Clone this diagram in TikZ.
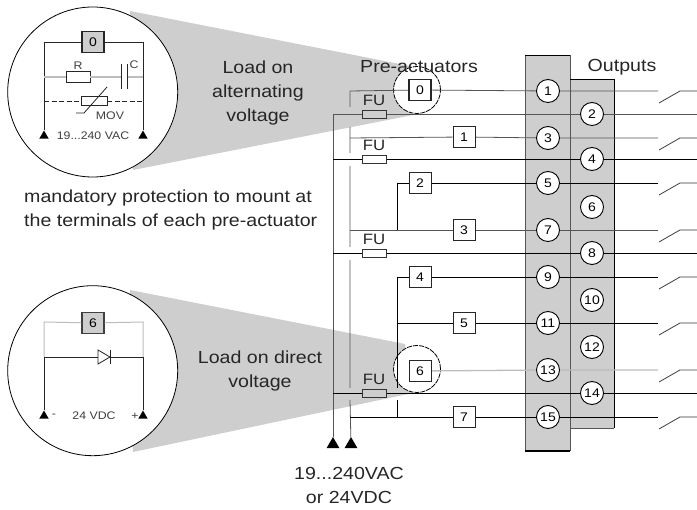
\documentclass[tikz,border=0pt]{standalone}
\usepackage{fontspec}
\setmainfont[FakeStretch=1.12]{Liberation Sans}
\usetikzlibrary{shapes.geometric}
\pgfdeclarelayer{bg}
\pgfdeclarelayer{wires}
\pgfsetlayers{bg,wires,main}
\definecolor{cgray}{HTML}{CECECE}
\definecolor{thinw}{HTML}{555555}
\definecolor{lightw}{HTML}{BDBDBD}
\tikzset{
  x=1pt,y=-1pt,
  txt/.style={font=\fontsize{17.5}{24}\selectfont,align=center,inner sep=0pt,text=black!85},
  term/.style={circle,draw=black,fill=white,line width=0.9pt,minimum size=23pt,inner sep=0pt,font=\fontsize{12.5}{12.5}\selectfont},
  box/.style={rectangle,draw=black!85,fill=white,line width=0.9pt,minimum width=22pt,minimum height=21pt,inner sep=0pt,font=\fontsize{12.5}{12.5}\selectfont},
  gbox/.style={box,fill=cgray,line width=1.1pt},
  fuse/.style={rectangle,draw=black!80,fill=white,line width=0.8pt,minimum width=24pt,minimum height=8pt,inner sep=0pt},
  futxt/.style={font=\fontsize{15}{15}\selectfont,inner sep=0pt,text=black!85},
  tri/.style={regular polygon,regular polygon sides=3,fill=black,inner sep=0pt,minimum size=15pt},
  stri/.style={regular polygon,regular polygon sides=3,fill=black,inner sep=0pt,minimum size=11pt},
  tiny/.style={font=\fontsize{11}{11}\selectfont,inner sep=0pt,text=black!75},
  strong/.style={draw=black,line width=0.9pt},
  weak/.style={draw=thinw,line width=0.8pt},
  pale/.style={draw=lightw,line width=1.3pt},
  lens/.style={circle,draw=black,fill=white,line width=0.8pt,inner sep=0pt},
  contact/.style={draw=black!80,line width=0.8pt}
}
\begin{document}
\begin{tikzpicture}
\useasboundingbox (0,0) rectangle (697,510);

% --- lenses and shaded cones
\begin{pgfonlayer}{bg}
  \fill[cgray] (130,11) -- (410,66) -- (413,115) -- (133,170) -- cycle;
  \fill[cgray] (130,290) -- (405,344) -- (413,393) -- (133,452) -- cycle;
  \fill[cgray] (525,55) rectangle (570,451);
  \fill[cgray] (570,79) rectangle (614,428);
  \draw[thinw,line width=0.7pt] (525,55) -- (525,451) (570,55) -- (570,451);
  \draw[black,line width=0.9pt] (525,55) -- (570,55);
  \draw[black,line width=1.4pt] (525,451) -- (570,451);
  \draw[black,line width=0.9pt] (570,79) -- (614,79) -- (614,428);
  \draw[thinw,line width=0.7pt] (614,428) -- (570,428);
  \node[lens,minimum size=170pt] (L1) at (92.7,92) {};
  \node[lens,minimum size=170pt] (L2) at (92.7,370.7) {};
  \node[lens,dash pattern=on 5pt off 1pt,minimum size=47pt] (l0) at (417,90) {};
  \node[lens,dash pattern=on 5pt off 1pt,minimum size=47pt] (l6) at (417,369) {};
\end{pgfonlayer}

% --- terminals
\foreach \n/\y in {1/91,3/138,5/183,7/230,9/277,11/323,13/370,15/417}
  \node[term] (t\n) at (548,\y) {\n};
\foreach \n/\y in {2/114,4/159,6/207,8/253,10/300,12/347,14/393}
  \node[term] (t\n) at (592,\y) {\n};

% --- pre-actuators
\node[box,line width=1.2pt] (b0) at (420,90) {0};
\node[box] (b1) at (464,137) {1};
\node[box] (b2) at (420,183) {2};
\node[box] (b3) at (464,230) {3};
\node[box] (b4) at (420,277) {4};
\node[box] (b5) at (464,323) {5};
\node[box] (b6) at (420,371) {6};
\node[box] (b7) at (464,417) {7};

% --- fuses
\foreach \n/\y/\fc in {a/114/cgray,b/159/white,c/253/white,d/393/cgray}{
  \node[fuse,fill=\fc] (f\n) at (374,\y) {};
  \node[futxt] at (374,\y-13.5) {FU};
}

% --- bus coordinates
\coordinate (v0) at (350,91);
\coordinate (v1a) at (350,107);
\coordinate (v1b) at (350,127);
\coordinate (v2a) at (350,153);
\coordinate (v2b) at (350,166);
\coordinate (v3a) at (350,247);
\coordinate (v3b) at (350,260);
\coordinate (v4a) at (350,388);
\coordinate (v4b) at (350,400);
\coordinate (r3) at (350,138);
\coordinate (r7) at (350,230);
\coordinate (r15) at (350,417);
\coordinate (n7) at (397,230);
\coordinate (n2) at (397,183);
\coordinate (n4) at (397,277);
\coordinate (n5) at (397,323);
\coordinate (n15) at (397,417);
\coordinate (n14a) at (397,388);
\coordinate (n14b) at (397,400);
\coordinate (w2) at (333,114);
\coordinate (w4) at (333,159);
\coordinate (w8) at (333,253);
\coordinate (w14) at (333,393);
\coordinate (e2) at (697,114);
\coordinate (e4) at (697,159);
\coordinate (e8) at (697,253);
\coordinate (e14) at (697,393);
\node[tri] (pA) at (333,444.5) {};
\node[tri] (pB) at (351,444.5) {};

% --- contacts
\foreach \n/\y in {1/91,3/138,5/183,7/230,9/277,11/323,13/370,15/417}{
  \coordinate (o\n) at (658,\y);
  \coordinate (ca\n) at (659,\y+12);
  \coordinate (cb\n) at (680,\y);
  \coordinate (cc\n) at (697,\y);
}

\begin{pgfonlayer}{wires}
  % buses
  \draw[weak] (w2) -- (pA);
  \draw[weak] (v0) -- (v1a) (v1b) -- (v2a) (v2b) -- (v3a) (v3b) -- (v4a) (v4b) -- (pB);
  \draw[strong] (n2) -- (n7);
  \draw[strong] (n4) -- (n14a) (n14b) -- (n15);
  % rows to the odd terminals
  \draw[weak] (v0) -- (b0) -- (t1) -- (o1);
  \draw[weak] (r3) -- (b1) -- (t3) -- (o3);
  \draw[strong] (n2) -- (b2) -- (t5) -- (o5);
  \draw[weak] (r7) -- (b3) -- (t7) -- (o7);
  \draw[strong] (n4) -- (b4) -- (t9) -- (o9);
  \draw[strong] (n5) -- (b5) -- (t11) -- (o11);
  \draw[pale] (b6) -- (t13) -- (o13);
  \draw[strong] (r15) -- (b7) -- (t15) -- (o15);
  % rows through the even terminals
  \draw[weak] (w2) -- (t2) -- (e2);
  \draw[strong] (w4) -- (t4) -- (e4);
  \draw[strong] (w8) -- (t8) -- (e8);
  \draw[strong] (w14) -- (t14) -- (e14);
  % contacts
  \foreach \n in {1,3,5,7,9,11,13,15}
    \draw[contact] (ca\n) -- (cb\n) -- (cc\n);
  \draw[pale] (cb13) -- (cc13);
\end{pgfonlayer}

% --- labels
\node[txt] at (419,67) {Pre-actuators};
\node[txt] at (622,67) {Outputs};
\node[txt] at (258,93) {Load on\\alternating\\voltage};
\node[txt] at (260,371) {Load on direct\\voltage};
\node[txt,align=left,anchor=west] at (24,210) {mandatory protection to mount at\\the terminals of each pre-actuator};
\node[txt] at (349,485) {19...240VAC\\or 24VDC};

% --- AC detail
\node[gbox] (d0) at (93,42) {0};
\coordinate (dl) at (44,42);
\coordinate (dr) at (143,42);
\coordinate (rl) at (44,77);
\coordinate (rr) at (143,77);
\coordinate (ml) at (44,101);
\coordinate (mr) at (143,101);
\node[rectangle,draw=black!85,fill=white,line width=0.8pt,minimum width=24pt,minimum height=11pt,inner sep=0pt] (R) at (78,77) {};
\node[rectangle,draw=black!85,fill=white,line width=0.8pt,minimum width=26pt,minimum height=9pt,inner sep=0pt] (M) at (94,101) {};
\coordinate (ca) at (121,77);
\coordinate (cb) at (127,77);
\node[stri] (al) at (44,136) {};
\node[stri] (ar) at (143,136) {};
\draw[black!85,line width=0.8pt] (al) -- (dl) -- (d0) -- (dr) -- (ar);
\draw[lightw,line width=1.4pt] (rl) -- (R) -- (ca) (cb) -- (rr);
\draw[black!85,line width=0.8pt] (121,64) -- (121,89) (127,64) -- (127,89);
\draw[black!85,line width=0.8pt,dash pattern=on 5pt off 2.5pt] (ml) -- (M) -- (mr);
\draw[black!85,line width=0.8pt] (76,113) -- (84,113) -- (107,87);
\node[tiny] at (78,66) {R};
\node[tiny] at (134,65) {C};
\node[tiny] at (110,116) {MOV};
\node[tiny] at (93,136) {19...240 VAC};

% --- DC detail
\node[gbox,draw=black!75] (d6) at (93,323) {6};
\coordinate (gl) at (44,322);
\coordinate (gr) at (143,322);
\coordinate (hl) at (44,357);
\coordinate (hr) at (143,357);
\node[stri] (cl) at (44,416) {};
\node[stri] (cr) at (143,416) {};
\draw[black!85,line width=0.8pt] (cl) -- (hl) (cr) -- (hr);
\draw[lightw,line width=1pt] (hl) -- (gl) -- (d6) -- (gr) -- (hr);
\draw[black!85,line width=0.8pt] (hl) -- (hr);
\draw[black!85,fill=white,line width=0.8pt] (98,350) -- (110,357) -- (98,364) -- cycle;
\draw[black!85,line width=0.8pt] (110,350) -- (110,364);
\node[tiny] at (94,416) {24 VDC};
\node[tiny] at (54,416) {-};
\node[tiny] at (135,416) {+};
\end{tikzpicture}
\end{document}
